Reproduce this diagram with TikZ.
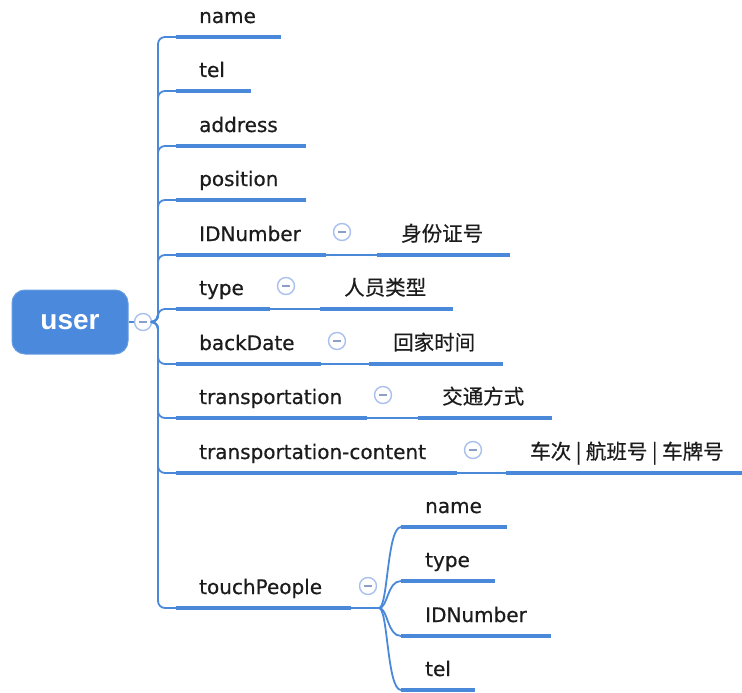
\documentclass[tikz,border=0pt]{standalone}
\usepackage{fontspec}
\setmainfont{DejaVu Sans}[FakeBold=0.5]
\newfontfamily\lblfont{DejaVu Sans}[FakeBold=0.6]
\newfontfamily\cjk{Noto Sans CJK SC}[FakeBold=0.5]
\newfontfamily\rootfont{Liberation Sans}
\definecolor{lineblue}{HTML}{4A88DA}
\definecolor{rootblue}{HTML}{4A89DC}
\definecolor{togline}{HTML}{A9C0EE}
\definecolor{togminus}{HTML}{8C9FC8}
\definecolor{txt}{HTML}{1C1C1C}
\tikzset{
  lbl/.style={anchor=base west, inner sep=0pt, text=txt, font=\lblfont\fontsize{20}{24}\selectfont},
  clbl/.style={anchor=base west, inner sep=0pt, text=txt, font=\cjk\fontsize{20.5}{24}\selectfont},
  ul/.style={draw=lineblue, line width=4.5pt},
  conn/.style={draw=lineblue, line width=1.8pt},
  tog/.style={circle, draw=togline, line width=1.4pt, fill=white, minimum size=17pt, inner sep=0pt,
    path picture={\draw[togminus, line width=1.4pt] ([xshift=-4pt]path picture bounding box.center) -- ([xshift=4pt]path picture bounding box.center);}},
  rootbox/.style={rounded corners=13pt, fill=rootblue, draw=rootblue!85!white, line width=1pt, minimum width=116pt, minimum height=64pt, text=white, font=\rootfont\bfseries\fontsize{28}{30}\selectfont}
}
\begin{document}
\begin{tikzpicture}[x=1pt,y=-1pt]
\useasboundingbox (0,0) rectangle (742,693);
% root
\node[rootbox] (root) at (70,322) {user};
\node[tog] (rc) at (143,322) {};
\coordinate (J) at (158,322);
\draw[conn, line width=2.2pt] (root.east) -- (rc.west);
% first level children
\foreach \y/\e/\t/\n in {37/281/name/a, 91/251/tel/b, 146/306/address/c, 200/306/position/d,
  255/326/IDNumber/e, 309/270/type/f, 364/321/backDate/g, 418/367/transportation/h,
  473/457/transportation-content/i, 608/351/touchPeople/j}{
  \coordinate (\n s) at (176,\y);
  \coordinate (\n e) at (\e,\y);
  \node[lbl] (\n t) at (199,\y-14) {\t};
  \draw[conn, rounded corners=7pt] (rc.east) -- (J) -- (158,\y) -- (\n s);
  \draw[ul] (\n s) -- (\n e);
}
% second level (single children)
\foreach \n/\y/\e/\s/\f/\t in {e/255/326/377/510/身份证号, f/309/270/320/453/人员类型,
  g/364/321/369/503/回家时间, h/418/367/418/552/交通方式,
  i/473/457/506/742/{车次 | 航班号 | 车牌号}}{
  \node[tog] (\n c) at (\e+16,\y-23) {};
  \coordinate (\n cs) at (\s,\y);
  \coordinate (\n ce) at (\f,\y);
  \node[clbl] (\n ct) at (\s+24,\y-14) {\t};
  \draw[conn] (\n e) -- (\n cs);
  \draw[ul] (\n cs) -- (\n ce);
}
% touchPeople children
\node[tog] (jc) at (368,586) {};
\coordinate (TB) at (379,608);
\draw[conn] (je) -- (TB);
\foreach \n/\y/\f/\t in {p/527/507/name, q/581/495/type, r/636/551/IDNumber, s/690/475/tel}{
  \coordinate (\n s) at (401,\y);
  \coordinate (\n e) at (\f,\y);
  \node[lbl] (\n t) at (425,\y-14) {\t};
  \draw[conn] (TB) .. controls +(9,0) and +(-14,0) .. (\n s);
  \draw[ul] (\n s) -- (\n e);
}
\end{tikzpicture}
\end{document}
